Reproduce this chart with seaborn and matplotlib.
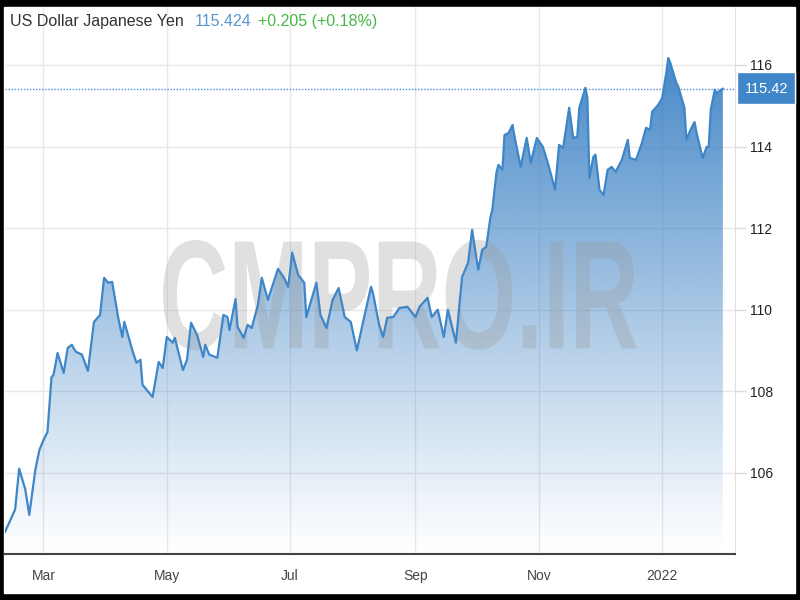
import numpy as np
import pandas as pd
import matplotlib
matplotlib.use("Agg")
import matplotlib.pyplot as plt
import seaborn as sns
from matplotlib.patches import Rectangle, PathPatch
from matplotlib.textpath import TextPath
from matplotlib.font_manager import FontProperties
from matplotlib.transforms import Affine2D, IdentityTransform

# Datos (USD/JPY)
fechas = [
    "2021-02-10", "2021-02-15", "2021-02-17", "2021-02-20", "2021-02-22", "2021-02-25", "2021-02-27",
    "2021-03-01", "2021-03-03", "2021-03-05", "2021-03-06", "2021-03-08", "2021-03-11", "2021-03-13",
    "2021-03-15", "2021-03-17", "2021-03-20", "2021-03-23", "2021-03-26", "2021-03-29", "2021-03-31",
    "2021-04-02", "2021-04-04", "2021-04-07", "2021-04-09", "2021-04-10", "2021-04-14", "2021-04-16",
    "2021-04-18", "2021-04-19", "2021-04-24", "2021-04-27", "2021-04-29", "2021-05-01", "2021-05-04",
    "2021-05-05", "2021-05-09", "2021-05-11", "2021-05-13", "2021-05-16", "2021-05-19", "2021-05-20",
    "2021-05-22", "2021-05-26", "2021-05-29", "2021-05-31", "2021-06-01", "2021-06-04", "2021-06-05",
    "2021-06-08", "2021-06-10", "2021-06-12", "2021-06-15", "2021-06-17", "2021-06-20", "2021-06-25",
    "2021-06-28", "2021-06-30", "2021-07-02", "2021-07-05", "2021-07-08", "2021-07-09", "2021-07-14",
    "2021-07-16", "2021-07-19", "2021-07-22", "2021-07-25", "2021-07-28", "2021-07-31", "2021-08-03",
    "2021-08-06", "2021-08-10", "2021-08-11", "2021-08-14", "2021-08-16", "2021-08-18", "2021-08-21",
    "2021-08-24", "2021-08-28", "2021-09-01", "2021-09-03", "2021-09-07", "2021-09-09", "2021-09-12",
    "2021-09-15", "2021-09-17", "2021-09-21", "2021-09-24", "2021-09-27", "2021-09-29", "2021-10-01",
    "2021-10-02", "2021-10-04", "2021-10-06", "2021-10-08", "2021-10-09", "2021-10-11", "2021-10-12",
    "2021-10-14", "2021-10-15", "2021-10-17", "2021-10-19", "2021-10-20", "2021-10-23", "2021-10-26",
    "2021-10-28", "2021-10-31", "2021-11-03", "2021-11-06", "2021-11-09", "2021-11-11", "2021-11-13",
    "2021-11-16", "2021-11-18", "2021-11-20", "2021-11-21", "2021-11-24", "2021-11-25", "2021-11-26",
    "2021-11-28", "2021-11-29", "2021-12-01", "2021-12-03", "2021-12-05", "2021-12-07", "2021-12-09",
    "2021-12-12", "2021-12-15", "2021-12-16", "2021-12-19", "2021-12-22", "2021-12-24", "2021-12-26",
    "2021-12-27", "2021-12-30", "2022-01-01", "2022-01-03", "2022-01-04", "2022-01-05", "2022-01-08",
    "2022-01-09", "2022-01-12", "2022-01-13", "2022-01-15", "2022-01-17", "2022-01-18", "2022-01-21",
    "2022-01-23", "2022-01-24", "2022-01-25", "2022-01-27", "2022-01-28", "2022-01-31",
]
precios = [
    104.55, 105.10, 106.10, 105.60, 104.97, 106.07, 106.56,
    106.80, 107.00, 108.35, 108.40, 108.94, 108.45, 109.06,
    109.14, 108.97, 108.90, 108.50, 109.70, 109.87, 110.78,
    110.66, 110.68, 109.80, 109.33, 109.70, 109.00, 108.70,
    108.77, 108.16, 107.86, 108.72, 108.57, 109.33, 109.19,
    109.31, 108.52, 108.77, 109.68, 109.38, 108.84, 109.14,
    108.90, 108.82, 109.87, 109.82, 109.50, 110.26, 109.58,
    109.31, 109.63, 109.55, 110.10, 110.78, 110.24, 111.00,
    110.78, 110.56, 111.40, 110.85, 110.66, 109.82, 110.66,
    109.87, 109.55, 110.24, 110.53, 109.82, 109.70, 109.00,
    109.68, 110.56, 110.40, 109.63, 109.33, 109.80, 109.82,
    110.04, 110.07, 109.82, 110.07, 110.29, 109.82, 110.00,
    109.33, 110.00, 109.19, 110.80, 111.15, 111.96, 111.30,
    110.98, 111.47, 111.54, 112.25, 112.45, 113.35, 113.55,
    113.43, 114.28, 114.33, 114.53, 114.24, 113.50, 114.21,
    113.60, 114.21, 113.99, 113.50, 112.94, 114.04, 113.97,
    114.95, 114.21, 114.24, 114.95, 115.44, 115.19, 113.23,
    113.75, 113.80, 112.94, 112.81, 113.43, 113.50, 113.38,
    113.67, 114.16, 113.72, 113.67, 114.09, 114.46, 114.41,
    114.85, 115.02, 115.19, 115.80, 116.17, 116.05, 115.56,
    115.46, 114.95, 114.16, 114.41, 114.60, 114.33, 113.72,
    113.99, 113.99, 114.90, 115.39, 115.31, 115.42,
]
ticks_y = [106, 108, 110, 112, 114, 116]
meses = ["2021-03-01", "2021-05-01", "2021-07-01", "2021-09-01", "2021-11-01", "2022-01-01"]
etiquetas_meses = ["Mar", "May", "Jul", "Sep", "Nov", "2022"]
ultimo = 115.42
titulo = "US Dollar Japanese Yen"
cotizacion = "115.424"
cambio = "+0.205 (+0.18%)"
marca = "CMPRO.IR"

df = pd.DataFrame({"Fecha": pd.to_datetime(fechas), "Precio": precios})

azul = "#3f86c8"
sns.set_style("white")
plt.rcParams["font.family"] = ["Liberation Sans", "DejaVu Sans"]

fig = plt.figure(figsize=(8, 6), dpi=100, facecolor="black")
# fondo blanco con marco negro
fig.patches.append(Rectangle((4 / 800, 7 / 600), 791 / 800, 586 / 600,
                             transform=fig.transFigure, facecolor="white", zorder=-5))

ax = fig.add_axes([5 / 800, 46 / 600, 730 / 800, 547 / 600])
ax.set_facecolor("none")

x0 = pd.Timestamp("2021-02-10")
x1 = pd.Timestamp("2022-02-06")
ax.set_xlim(x0, x1)
ax.set_ylim(104.01, 117.42)

# Relleno con degradado
poly = ax.fill_between(df["Fecha"], df["Precio"], 104.01, facecolor="none", edgecolor="none")
grad = np.zeros((256, 1, 4))
rgb = matplotlib.colors.to_rgb("#3a80c4")
grad[:, 0, :3] = rgb
grad[:, 0, 3] = np.linspace(0.95, 0.0, 256) ** 1.05
xn0, xn1 = matplotlib.dates.date2num(x0), matplotlib.dates.date2num(x1)
im = ax.imshow(grad, extent=[xn0, xn1, 104.01, 116.3], aspect="auto", origin="upper", zorder=1)
im.set_clip_path(poly.get_paths()[0], transform=ax.transData)

sns.lineplot(data=df, x="Fecha", y="Precio", ax=ax, color=azul, linewidth=1.6, zorder=3)
ax.axhline(ultimo, color="#4a8fd4", linestyle=(0, (1, 1.2)), linewidth=1.0, zorder=2)

# Marca de agua
tp = TextPath((0, 0), marca, size=100, prop=FontProperties(family="Liberation Sans", weight="bold"))
bb = tp.get_extents()
tr = Affine2D().translate(-bb.x0, -bb.y0).scale(474 / bb.width, 110 / bb.height).translate(163, 250)
wm = PathPatch(tr.transform_path(tp), facecolor="#9a9a9a", edgecolor="none",
               alpha=0.3, transform=IdentityTransform(), zorder=2.5)
ax.add_artist(wm)

# Ejes
ax.set_xticks(pd.to_datetime(meses))
ax.set_xticklabels(etiquetas_meses)
ax.set_yticks(ticks_y)
ax.yaxis.tick_right()
ax.grid(True, color="#e8e8e8", linewidth=1)
ax.set_axisbelow(True)
ax.tick_params(axis="x", length=0, pad=11, labelsize=10, labelcolor="#444444")
ax.tick_params(axis="y", length=8, width=1, color="#dddddd", pad=3, labelsize=10, labelcolor="#222222")
ax.set_xlabel("")
ax.set_ylabel("")
for lado in ["left", "top"]:
    ax.spines[lado].set_visible(False)
ax.spines["right"].set_color("#e0e0e0")
ax.spines["bottom"].set_color("#444444")
ax.spines["bottom"].set_linewidth(1.5)

# Caja del ultimo precio
fig.patches.append(Rectangle((737 / 800, (600 - 104) / 600), 58 / 800, 32 / 600,
                             transform=fig.transFigure, facecolor="#3f86c8", zorder=5))
fig.text(767 / 800, 1 - 89 / 600, "115.42", color="white", fontsize=10.5, ha="center", va="center", zorder=6)

# Titulo
fig.text(10 / 800, 1 - 26 / 600, titulo, color="#333333", fontsize=11.5, va="baseline")
fig.text(195 / 800, 1 - 26 / 600, cotizacion, color="#5b95d0", fontsize=11.5, va="baseline")
fig.text(258 / 800, 1 - 26 / 600, cambio, color="#45b845", fontsize=11.5, va="baseline")

fig.savefig("out.png", dpi=100, facecolor="black")
